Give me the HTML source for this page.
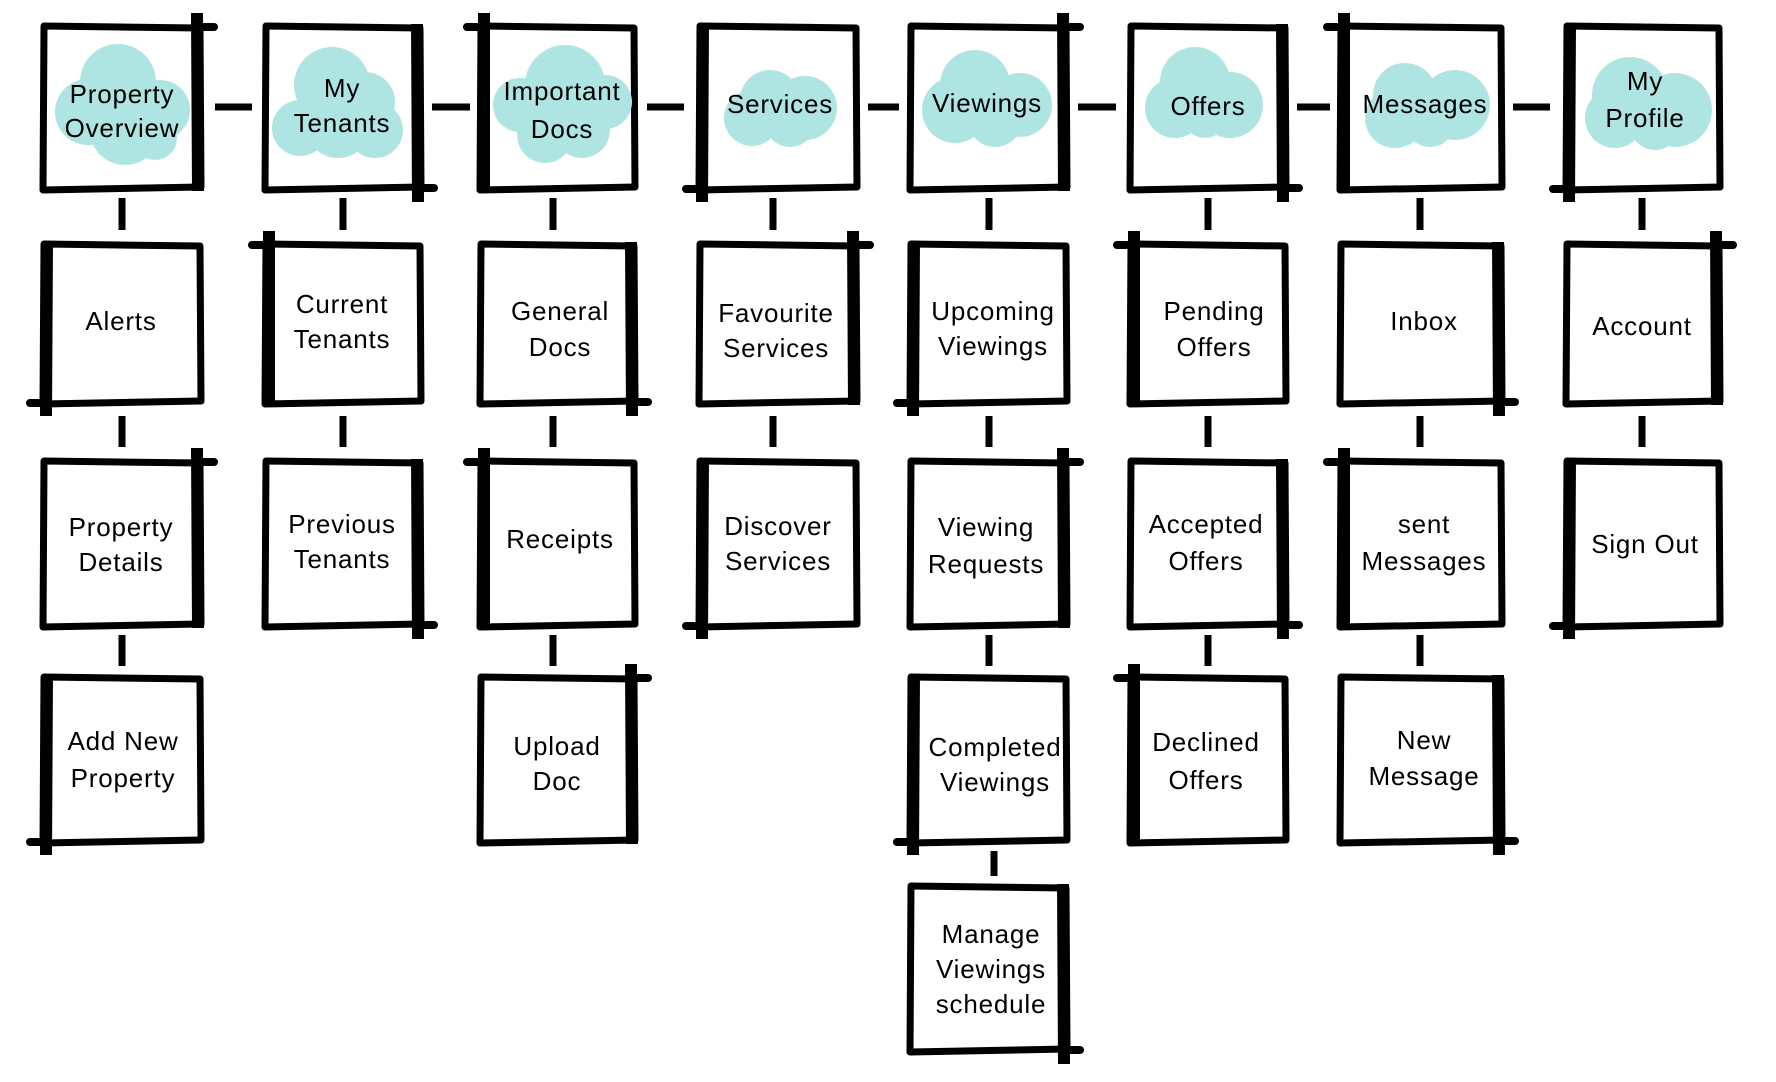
<!DOCTYPE html>
<html><head><meta charset="utf-8"><style>
html,body{margin:0;padding:0;background:#fff;}
svg{display:block;}
.o{fill:#fff;stroke:#000;stroke-width:7;stroke-linejoin:round;}
.k{fill:none;stroke:#000;stroke-width:12;}
.e{fill:none;stroke:#000;stroke-width:8;stroke-linecap:round;}
.c{fill:#aee5e2;}
text{font-family:"Liberation Sans",sans-serif;font-size:26px;letter-spacing:0.8px;fill:#000;text-anchor:middle;}
</style></head><body>
<svg width="1776" height="1082" viewBox="0 0 1776 1082" xmlns="http://www.w3.org/2000/svg">
<rect width="1776" height="1082" fill="#fff"/>

<!-- horizontal connectors -->
<g fill="#000">
<rect x="215" y="103.5" width="37" height="7"/>
<rect x="432" y="103.5" width="38" height="7"/>
<rect x="647" y="103.5" width="37" height="7"/>
<rect x="868" y="103.5" width="31" height="7"/>
<rect x="1078" y="103.5" width="38" height="7"/>
<rect x="1297" y="103.5" width="33" height="7"/>
<rect x="1513" y="103.5" width="37" height="7"/>
</g>

<!-- vertical connectors -->
<g fill="#000">
<rect x="118.5" y="198" width="7" height="32"/><rect x="118.5" y="416" width="7" height="31"/><rect x="118.5" y="635" width="7" height="31"/>
<rect x="339.5" y="198" width="7" height="32"/><rect x="339.5" y="416" width="7" height="31"/>
<rect x="549.5" y="198" width="7" height="32"/><rect x="549.5" y="416" width="7" height="31"/><rect x="549.5" y="635" width="7" height="31"/>
<rect x="769.5" y="198" width="7" height="32"/><rect x="769.5" y="416" width="7" height="31"/>
<rect x="985.5" y="198" width="7" height="32"/><rect x="985.5" y="416" width="7" height="31"/><rect x="985.5" y="635" width="7" height="31"/><rect x="990.5" y="851" width="7" height="25"/>
<rect x="1204.5" y="198" width="7" height="32"/><rect x="1204.5" y="416" width="7" height="31"/><rect x="1204.5" y="635" width="7" height="31"/>
<rect x="1416.5" y="198" width="7" height="32"/><rect x="1416.5" y="416" width="7" height="31"/><rect x="1416.5" y="635" width="7" height="31"/>
<rect x="1638.5" y="198" width="7" height="32"/><rect x="1638.5" y="416" width="7" height="31"/>
</g>

<!-- ROW 1 boxes -->
<path class="o" d="M44 26 L200 28 L201 187 L43 190 Z"/>
<path class="o" d="M266 26 L420 28 L421 187 L265 190 Z"/>
<path class="o" d="M481 26 L634 28 L635 187 L480 190 Z"/>
<path class="o" d="M700 26 L856 28 L857 187 L699 190 Z"/>
<path class="o" d="M911 26 L1066 28 L1067 187 L910 190 Z"/>
<path class="o" d="M1131 26 L1285 28 L1286 187 L1130 190 Z"/>
<path class="o" d="M1341 26 L1501 28 L1502 187 L1340 190 Z"/>
<path class="o" d="M1567 26 L1719 28 L1720 187 L1566 190 Z"/>

<!-- ROW 2 boxes -->
<path class="o" d="M44 244 L200 246 L201 401 L43 404 Z"/>
<path class="o" d="M266 244 L420 246 L421 401 L265 404 Z"/>
<path class="o" d="M481 244 L634 246 L635 401 L480 404 Z"/>
<path class="o" d="M700 244 L856 246 L857 401 L699 404 Z"/>
<path class="o" d="M911 244 L1066 246 L1067 401 L910 404 Z"/>
<path class="o" d="M1131 244 L1285 246 L1286 401 L1130 404 Z"/>
<path class="o" d="M1341 244 L1501 246 L1502 401 L1340 404 Z"/>
<path class="o" d="M1567 244 L1719 246 L1720 401 L1566 404 Z"/>

<!-- ROW 3 boxes -->
<path class="o" d="M44 461 L200 463 L201 624 L43 627 Z"/>
<path class="o" d="M266 461 L420 463 L421 624 L265 627 Z"/>
<path class="o" d="M481 461 L634 463 L635 624 L480 627 Z"/>
<path class="o" d="M700 461 L856 463 L857 624 L699 627 Z"/>
<path class="o" d="M911 461 L1066 463 L1067 624 L910 627 Z"/>
<path class="o" d="M1131 461 L1285 463 L1286 624 L1130 627 Z"/>
<path class="o" d="M1341 461 L1501 463 L1502 624 L1340 627 Z"/>
<path class="o" d="M1567 461 L1719 463 L1720 624 L1566 627 Z"/>

<!-- ROW 4 boxes -->
<path class="o" d="M44 677 L200 679 L201 840 L43 843 Z"/>
<path class="o" d="M481 677 L634 679 L635 840 L480 843 Z"/>
<path class="o" d="M911 677 L1066 679 L1067 840 L910 843 Z"/>
<path class="o" d="M1131 677 L1285 679 L1286 840 L1130 843 Z"/>
<path class="o" d="M1341 677 L1501 679 L1502 840 L1340 843 Z"/>

<!-- ROW 5 box -->
<path class="o" d="M911 886 L1066 888 L1067 1049 L910 1052 Z"/>

<!-- thick sides -->
<g class="k">
<path d="M197 13 L198 191"/><path d="M417 24 L418 202"/><path d="M484 13 L484 191"/><path d="M703 24 L702 202"/>
<path d="M1063 13 L1064 191"/><path d="M1282 24 L1283 202"/><path d="M1344 13 L1344 191"/><path d="M1570 24 L1569 202"/>
<path d="M47 242 L46 416"/><path d="M269 231 L269 405"/><path d="M631 242 L632 416"/><path d="M853 231 L854 405"/>
<path d="M914 242 L913 416"/><path d="M1134 231 L1134 405"/><path d="M1498 242 L1499 416"/><path d="M1716 231 L1717 405"/>
<path d="M197 448 L198 628"/><path d="M417 459 L418 639"/><path d="M484 448 L484 628"/><path d="M703 459 L702 639"/>
<path d="M1063 448 L1064 628"/><path d="M1282 459 L1283 639"/><path d="M1344 448 L1344 628"/><path d="M1570 459 L1569 639"/>
<path d="M47 675 L46 855"/><path d="M631 664 L632 844"/><path d="M914 675 L913 855"/><path d="M1134 664 L1134 844"/><path d="M1498 675 L1499 855"/>
<path d="M1063 884 L1064 1064"/>
</g>
<!-- overshoot edge extensions -->
<g class="e">
<path d="M197 27 L214 27"/><path d="M417 188 L434 188"/><path d="M467 27 L484 27"/><path d="M686 189 L703 189"/>
<path d="M1063 27 L1080 27"/><path d="M1282 188 L1299 188"/><path d="M1327 27 L1344 27"/><path d="M1553 189 L1570 189"/>
<path d="M30 403 L47 403"/><path d="M252 245 L269 245"/><path d="M631 402 L648 402"/><path d="M853 245 L870 245"/>
<path d="M897 403 L914 403"/><path d="M1117 245 L1134 245"/><path d="M1498 402 L1515 402"/><path d="M1716 245 L1733 245"/>
<path d="M197 462 L214 462"/><path d="M417 625 L434 625"/><path d="M467 462 L484 462"/><path d="M686 626 L703 626"/>
<path d="M1063 462 L1080 462"/><path d="M1282 625 L1299 625"/><path d="M1327 462 L1344 462"/><path d="M1553 626 L1570 626"/>
<path d="M30 842 L47 842"/><path d="M631 678 L648 678"/><path d="M897 842 L914 842"/><path d="M1117 678 L1134 678"/><path d="M1498 841 L1515 841"/>
<path d="M1063 1050 L1080 1050"/>
</g>

<!-- clouds -->
<g class="c">
<circle cx="118" cy="82" r="38"/><circle cx="160" cy="110" r="30"/><circle cx="88" cy="112" r="33"/><circle cx="125" cy="130" r="35"/><circle cx="155" cy="138" r="22"/>
<circle cx="332" cy="85" r="38"/><circle cx="365" cy="102" r="30"/><circle cx="375" cy="130" r="28"/><circle cx="300" cy="128" r="28"/><circle cx="338" cy="125" r="33"/>
<circle cx="565" cy="85" r="40"/><circle cx="605" cy="102" r="27"/><circle cx="520" cy="105" r="27"/><circle cx="545" cy="135" r="28"/><circle cx="582" cy="130" r="28"/>
<circle cx="770" cy="100" r="30"/><circle cx="805" cy="108" r="32"/><circle cx="752" cy="118" r="28"/><circle cx="790" cy="122" r="25"/>
<circle cx="975" cy="85" r="35"/><circle cx="1020" cy="105" r="32"/><circle cx="955" cy="110" r="33"/><circle cx="995" cy="120" r="27"/>
<circle cx="1195" cy="82" r="35"/><circle cx="1230" cy="105" r="33"/><circle cx="1175" cy="108" r="30"/><circle cx="1205" cy="116" r="22"/>
<circle cx="1405" cy="95" r="32"/><circle cx="1455" cy="105" r="35"/><circle cx="1395" cy="118" r="30"/><circle cx="1430" cy="122" r="25"/>
<circle cx="1630" cy="95" r="38"/><circle cx="1675" cy="110" r="37"/><circle cx="1615" cy="118" r="30"/><circle cx="1655" cy="125" r="25"/>
</g>

<!-- labels row 1 -->
<text x="122" y="103">Property</text><text x="122" y="137">Overview</text>
<text x="342" y="97">My</text><text x="342" y="132">Tenants</text>
<text x="562" y="100">Important</text><text x="562" y="138">Docs</text>
<text x="780" y="113">Services</text>
<text x="987" y="112">Viewings</text>
<text x="1208" y="115">Offers</text>
<text x="1425" y="113">Messages</text>
<text x="1645" y="90">My</text><text x="1645" y="127">Profile</text>

<!-- labels row 2 -->
<text x="121" y="330">Alerts</text>
<text x="342" y="313">Current</text><text x="342" y="348">Tenants</text>
<text x="560" y="320">General</text><text x="560" y="356">Docs</text>
<text x="776" y="322">Favourite</text><text x="776" y="357">Services</text>
<text x="993" y="320">Upcoming</text><text x="993" y="355">Viewings</text>
<text x="1214" y="320">Pending</text><text x="1214" y="356">Offers</text>
<text x="1424" y="330">Inbox</text>
<text x="1642" y="335">Account</text>

<!-- labels row 3 -->
<text x="121" y="536">Property</text><text x="121" y="571">Details</text>
<text x="342" y="533">Previous</text><text x="342" y="568">Tenants</text>
<text x="560" y="548">Receipts</text>
<text x="778" y="535">Discover</text><text x="778" y="570">Services</text>
<text x="986" y="536">Viewing</text><text x="986" y="573">Requests</text>
<text x="1206" y="533">Accepted</text><text x="1206" y="570">Offers</text>
<text x="1424" y="533">sent</text><text x="1424" y="570">Messages</text>
<text x="1645" y="553">Sign Out</text>

<!-- labels row 4 -->
<text x="123" y="750">Add New</text><text x="123" y="787">Property</text>
<text x="557" y="755">Upload</text><text x="557" y="790">Doc</text>
<text x="995" y="756">Completed</text><text x="995" y="791">Viewings</text>
<text x="1206" y="751">Declined</text><text x="1206" y="789">Offers</text>
<text x="1424" y="749">New</text><text x="1424" y="785">Message</text>

<!-- label row 5 -->
<text x="991" y="943">Manage</text><text x="991" y="978">Viewings</text><text x="991" y="1013">schedule</text>
</svg>
</body></html>
